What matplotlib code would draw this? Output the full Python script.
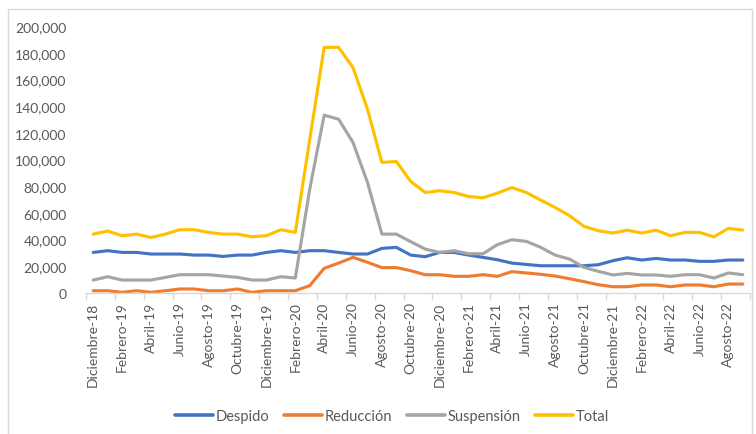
import matplotlib.pyplot as plt
import matplotlib.patches as mpatches
from matplotlib.ticker import FuncFormatter
import numpy as np

MONTHS = ["Enero", "Febrero", "Marzo", "Abril", "Mayo", "Junio", "Julio",
          "Agosto", "Septiembre", "Octubre", "Noviembre", "Diciembre"]

# Diciembre-18 .. Septiembre-22 (46 months)
periods = ["Diciembre-18"] + [
    f"{MONTHS[m]}-{y % 100:02d}"
    for y in (2019, 2020, 2021, 2022) for m in range(12)
][:45]

despido = [30400, 31700, 30400, 30400, 29200, 29200, 29200, 28400, 28400, 27400,
           28400, 28400, 30400, 31700, 30400, 31700, 31700, 30400, 29200, 29200,
           33400, 34200, 28400, 27200, 30400, 30400, 28400, 26700, 24900, 22400,
           21400, 20400, 20400, 20400, 20400, 21200, 24200, 26400, 24700, 25900,
           24700, 24700, 23700, 23700, 24700, 24700]

reduccion = [1700, 1700, 500, 1700, 500, 1700, 3000, 3000, 1700, 1700,
             3000, 500, 1700, 1700, 1700, 5500, 18500, 22400, 26700, 23000,
             19000, 19000, 16700, 13700, 13700, 12500, 12500, 13700, 12500, 16000,
             15000, 14000, 12700, 10700, 8500, 6200, 4700, 4700, 6000, 6000,
             4700, 6000, 6000, 4700, 6700, 6700]

suspension = [9700, 12200, 9700, 9700, 9700, 11700, 13700, 13700, 13700, 12700,
              11700, 9700, 9700, 12200, 11200, 77800, 133200, 130200, 112700, 82800,
              44100, 44100, 38400, 32900, 30400, 31700, 29400, 29400, 36200, 39900,
              38700, 34200, 28400, 25400, 19200, 16200, 13500, 14700, 13500, 13500,
              12500, 13700, 13700, 11200, 15000, 13700]

total = [44100, 46400, 42900, 44100, 41600, 44100, 47400, 47400, 45400, 44100,
         44100, 42100, 42900, 47400, 45400, 115000, 184000, 184000, 168800, 137700,
         97800, 98500, 83500, 75300, 76600, 75300, 72300, 71300, 74800, 79000,
         75300, 69600, 64100, 57900, 49900, 46600, 44900, 47100, 44900, 47100,
         42900, 45400, 45400, 42100, 48400, 47100]

SERIES = [
    ("Despido", despido, "#4472C4"),
    ("Reducción", reduccion, "#ED7D31"),
    ("Suspensión", suspension, "#A5A5A5"),
    ("Total", total, "#FFC000"),
]

plt.rcParams["font.family"] = ["Lato", "DejaVu Sans"]
TEXT = "#595959"

fig = plt.figure(figsize=(7.56, 4.35), dpi=100)
ax = fig.add_axes([86 / 756, 1 - 294 / 435, (750 - 86) / 756, (294 - 27) / 435])

x = np.arange(len(periods))
for name, vals, col in SERIES:
    ax.plot(x, vals, color=col, linewidth=2.25, label=name, solid_capstyle="round")

ax.set_xlim(-0.5, len(periods) - 0.5)
ax.set_ylim(0, 200000)
ax.set_yticks(np.arange(0, 200001, 20000))
ax.yaxis.set_major_formatter(FuncFormatter(lambda v, _: f"{int(v):,}"))
ax.tick_params(axis="y", length=0, labelsize=10, labelcolor=TEXT, pad=14)

ax.set_xticks(x[::2])
ax.set_xticklabels(periods[::2], rotation=90, fontsize=10, color=TEXT)
ax.set_xticks(np.arange(-0.5, len(periods), 2), minor=True)
ax.tick_params(axis="x", which="major", length=0, pad=6)
ax.tick_params(axis="x", which="minor", length=5, color="#D9D9D9", width=1)

for s in ("top", "right", "left"):
    ax.spines[s].set_visible(False)
ax.spines["bottom"].set_color("#D9D9D9")
ax.spines["bottom"].set_linewidth(1)

leg = fig.legend(loc="center", bbox_to_anchor=(392 / 756, 1 - 417 / 435), ncol=4,
                 frameon=False, fontsize=10.5, handlelength=2.6, handletextpad=0.2,
                 columnspacing=1.0)
for t in leg.get_texts():
    t.set_color(TEXT)
for h in leg.get_lines():
    h.set_linewidth(2.6)

border = mpatches.Rectangle((8 / 756, -0.05), (752 - 8) / 756, 1.05 - 10 / 435,
                            transform=fig.transFigure, fill=False,
                            edgecolor="#D9D9D9", linewidth=1)
fig.patches.append(border)

fig.savefig("out.png", dpi=100)
